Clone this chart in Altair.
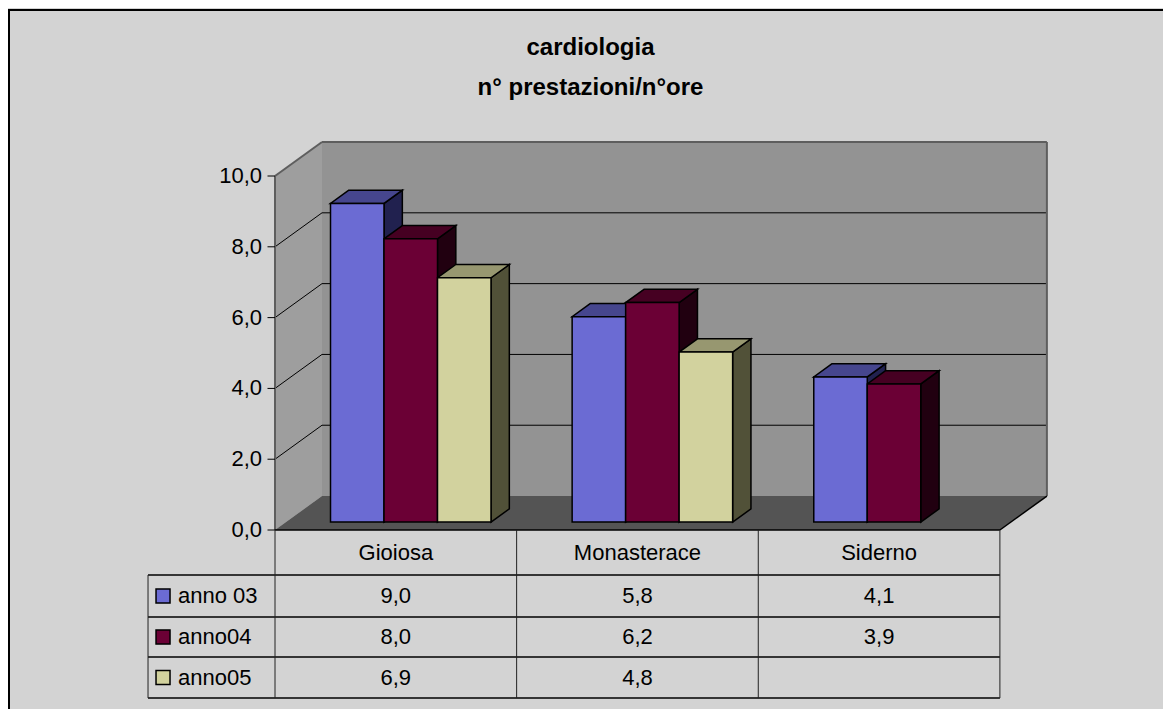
import altair as alt
import pandas as pd

# ---------------- data ----------------
categories = ["Gioiosa", "Monasterace", "Siderno"]
series = ["anno 03", "anno04", "anno05"]
anno03 = [9.0, 5.8, 4.1]
anno04 = [8.0, 6.2, 3.9]
anno05 = [6.9, 4.8, None]
values = [anno03, anno04, anno05]
y_ticks = [0, 2, 4, 6, 8, 10]
grid_levels = [2, 4, 6, 8]

front_colors = ["#6B6BD3", "#6B0035", "#D2D29E"]
top_colors = ["#46468E", "#460022", "#979770"]
side_colors = ["#21214F", "#210010", "#515138"]

# ---------------- layout (scale units) ----------------
W, H = 1155, 701
X_DOM = [-1.105, 3.675]
Y_DOM = [-5.056, 14.746]
PX = W / (X_DOM[1] - X_DOM[0])  # pixels per x unit
DX, DY = 0.1945, 0.96          # depth of the 3D box
BAR_T0, BAR_T = 0.235, 0.39    # bar front depth / bar depth (fractions)
GROUP_OFF, BAR_W = 0.184, 0.2214
ROW_LINES = [0, -1.271, -2.458, -3.588, -4.746]
LEG_LEFT = -0.5255
FONT = "Liberation Sans"
FS = 22

xs = alt.Scale(domain=X_DOM, nice=False, zero=False)
ys = alt.Scale(domain=Y_DOM, nice=False, zero=False)


def X(f="x"):
    return alt.X(f"{f}:Q", scale=xs, axis=None)


def Y(f="y"):
    return alt.Y(f"{f}:Q", scale=ys, axis=None, stack=None)


# ---------------- derived tables ----------------
bdx, bdy = BAR_T * DX, BAR_T * DY
fronts, sides, tops = [], [], []
n = 0
for i, cat in enumerate(categories):
    for k, ser in enumerate(series):
        v = values[k][i]
        if v is None:
            continue
        x0 = i + GROUP_OFF + BAR_T0 * DX + k * BAR_W
        x1 = x0 + BAR_W
        yb = BAR_T0 * DY
        yt = yb + v
        bid = f"b{n:02d}"
        n += 1
        fronts.append(dict(id=bid, x=x0, x2=x1, y=yb, y2=yt, c=front_colors[k]))
        sides.append(dict(id=bid, x=x1, y=yb, y2=yt, c=side_colors[k]))
        sides.append(dict(id=bid, x=x1 + bdx, y=yb + bdy, y2=yt + bdy, c=side_colors[k]))
        tops.append(dict(id=bid, y=yt, x=x0, x2=x1, c=top_colors[k]))
        tops.append(dict(id=bid, y=yt + bdy, x=x0 + bdx, x2=x1 + bdx, c=top_colors[k]))

fronts = pd.DataFrame(fronts)
sides = pd.DataFrame(sides)
tops = pd.DataFrame(tops)

# walls & floor
back_wall = pd.DataFrame([dict(x=DX, x2=3 + DX, y=DY, y2=10 + DY)])
left_wall = pd.DataFrame([dict(x=0, y=0, y2=10), dict(x=DX, y=DY, y2=10 + DY)])
floor = pd.DataFrame([dict(y=0, x=0, x2=3), dict(y=DY, x=DX, x2=3 + DX)])
grid_back = pd.DataFrame([dict(x=DX, x2=3 + DX, y=g + DY, y2=g + DY) for g in grid_levels])
grid_left = pd.DataFrame([dict(x=0, x2=DX, y=g, y2=g + DY) for g in grid_levels])
grey_edges = pd.DataFrame([
    dict(x=0, x2=0, y=0, y2=10),
    dict(x=0, x2=DX, y=10, y2=10 + DY),
    dict(x=DX, x2=3 + DX, y=10 + DY, y2=10 + DY),
    dict(x=3 + DX, x2=3 + DX, y=DY, y2=10 + DY),
])
black_edges = pd.DataFrame([dict(x=3, x2=3 + DX, y=0, y2=DY)])

# y axis (value labels on the front-left edge)
ticks_df = pd.DataFrame([dict(x=-7.5 / PX, x2=0, y=t, y2=t) for t in y_ticks])
tick_labels = pd.DataFrame([
    dict(x=-13 / PX, y=t, t=f"{t:.1f}".replace(".", ",")) for t in y_ticks
])

# data table
row_mid = [(ROW_LINES[r] + ROW_LINES[r + 1]) / 2 for r in range(4)]
hlines = pd.DataFrame(
    [dict(x=0, x2=3, y=ROW_LINES[0], y2=ROW_LINES[0])]
    + [dict(x=LEG_LEFT, x2=3, y=ROW_LINES[r], y2=ROW_LINES[r]) for r in range(1, 5)]
)
vlines = pd.DataFrame(
    [dict(x=i, x2=i, y=ROW_LINES[0], y2=ROW_LINES[4]) for i in range(4)]
    + [dict(x=LEG_LEFT, x2=LEG_LEFT, y=ROW_LINES[1], y2=ROW_LINES[4])]
)
cat_text = pd.DataFrame([dict(x=i + 0.5, y=row_mid[0], t=c) for i, c in enumerate(categories)])
val_text = pd.DataFrame([
    dict(x=i + 0.5, y=row_mid[k + 1], t=f"{values[k][i]:.1f}".replace(".", ","))
    for k in range(3) for i in range(3) if values[k][i] is not None
])
ser_text = pd.DataFrame([dict(x=LEG_LEFT + 30 / PX, y=row_mid[k + 1], t=s) for k, s in enumerate(series)])
keys = pd.DataFrame([
    dict(x=LEG_LEFT + 8 / PX, x2=LEG_LEFT + 22 / PX,
         y=row_mid[k + 1] - 0.2, y2=row_mid[k + 1] + 0.2, c=front_colors[k])
    for k in range(3)
])
frame_df = pd.DataFrame(dict(a=[0]))

# ---------------- layers ----------------
layers = []

layers.append(alt.Chart(back_wall).mark_rect(fill="#939393").encode(
    x=X(), x2="x2:Q", y=Y(), y2="y2:Q"))
layers.append(alt.Chart(left_wall).mark_area(fill="#9E9E9E", orient="vertical").encode(
    x=X(), y=Y(), y2="y2:Q"))
layers.append(alt.Chart(floor).mark_area(fill="#545454", orient="horizontal").encode(
    y=Y(), x=X(), x2="x2:Q"))
layers.append(alt.Chart(grid_back).mark_rule(color="#000000", strokeWidth=1).encode(
    x=X(), x2="x2:Q", y=Y(), y2="y2:Q"))
layers.append(alt.Chart(grid_left).mark_rule(color="#000000", strokeWidth=1).encode(
    x=X(), x2="x2:Q", y=Y(), y2="y2:Q"))
layers.append(alt.Chart(grey_edges).mark_rule(color="#5E5E5E", strokeWidth=2).encode(
    x=X(), x2="x2:Q", y=Y(), y2="y2:Q"))
layers.append(alt.Chart(black_edges).mark_rule(color="#000000", strokeWidth=1.5).encode(
    x=X(), x2="x2:Q", y=Y(), y2="y2:Q"))

# y axis ticks and labels
layers.append(alt.Chart(ticks_df).mark_rule(color="#000000", strokeWidth=1).encode(
    x=X(), x2="x2:Q", y=Y(), y2="y2:Q"))
layers.append(alt.Chart(tick_labels).mark_text(fontSize=FS, font=FONT, color="#000000",
                                               align="right", baseline="middle").encode(
    x=X(), y=Y(), text="t:N"))

# bars
layers.append(alt.Chart(sides).mark_area(orient="vertical", stroke="#000000", strokeWidth=1.5,
                                         strokeJoin="miter").encode(
    x=X(), y=Y(), y2="y2:Q", detail="id:N", fill=alt.Fill("c:N", scale=None)))
layers.append(alt.Chart(tops).mark_area(orient="horizontal", stroke="#000000", strokeWidth=1.5,
                                        strokeJoin="miter").encode(
    y=Y(), x=X(), x2="x2:Q", detail="id:N", fill=alt.Fill("c:N", scale=None)))
layers.append(alt.Chart(fronts).mark_rect(stroke="#000000", strokeWidth=1.5).encode(
    x=X(), x2="x2:Q", y=Y(), y2="y2:Q", fill=alt.Fill("c:N", scale=None)))

# table
layers.append(alt.Chart(hlines).mark_rule(color="#000000", strokeWidth=1.5).encode(
    x=X(), x2="x2:Q", y=Y(), y2="y2:Q"))
layers.append(alt.Chart(vlines).mark_rule(color="#222222", strokeWidth=1).encode(
    x=X(), x2="x2:Q", y=Y(), y2="y2:Q"))
layers.append(alt.Chart(keys).mark_rect(stroke="#000000", strokeWidth=1.5).encode(
    x=X(), x2="x2:Q", y=Y(), y2="y2:Q", fill=alt.Fill("c:N", scale=None)))
for df, align in [(cat_text, "center"), (val_text, "center"), (ser_text, "left")]:
    layers.append(alt.Chart(df).mark_text(fontSize=FS, font=FONT, color="#000000", align=align,
                                          baseline="middle").encode(
        x=X(), y=Y(), text="t:N"))

# frame (top / left border)
layers.append(alt.Chart(frame_df).mark_rule(color="#000000", strokeWidth=2).encode(
    x=alt.value(0), x2=alt.value(W), y=alt.value(2)))
layers.append(alt.Chart(frame_df).mark_rule(color="#000000", strokeWidth=2).encode(
    x=alt.value(1), y=alt.value(2), y2=alt.value(H)))

chart = alt.layer(*layers).properties(
    width=W, height=H,
    autosize=alt.AutoSizeParams(type="none"),
    padding=0,
    background="#D3D3D3",
    title=alt.TitleParams(
        text=["cardiologia", "n° prestazioni/n°ore"], fontSize=24, fontWeight="bold",
        font=FONT, color="#000000", lineHeight=40, anchor="middle", offset=-92, dx=5),
).configure_view(stroke=None)

chart.save("out.html", embed_options={"renderer": "svg", "actions": False})
